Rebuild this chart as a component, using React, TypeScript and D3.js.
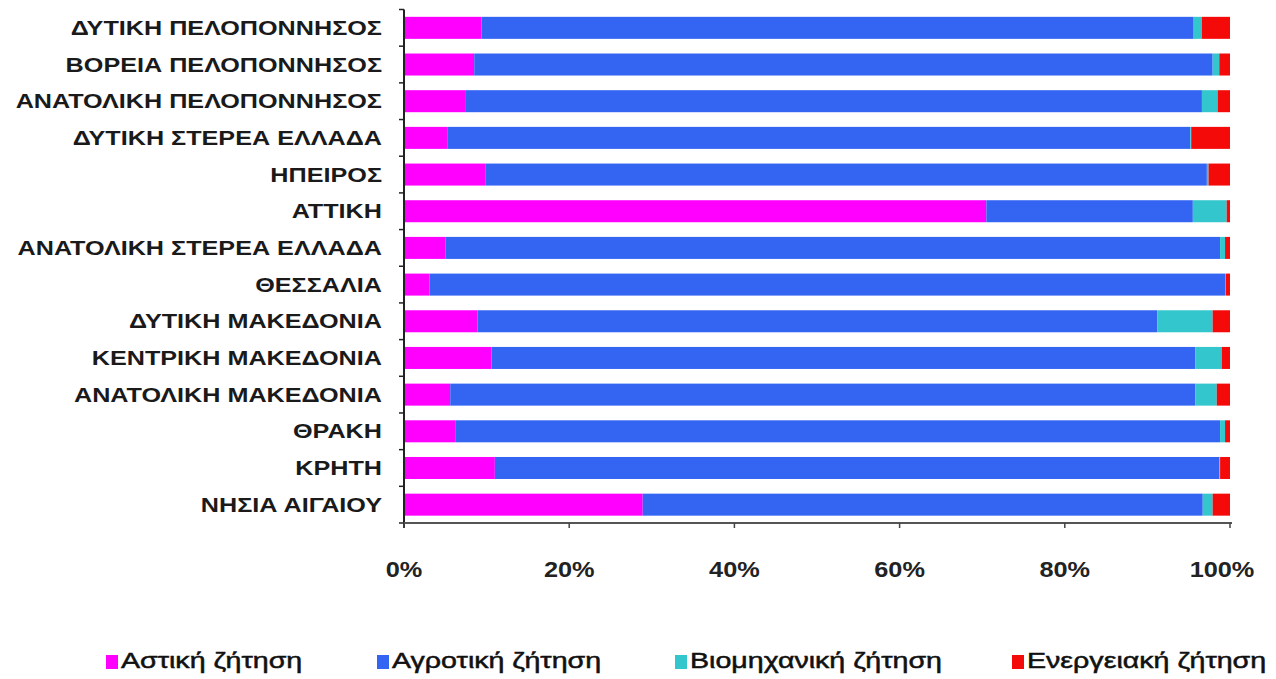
import React from "react";
import * as d3 from "d3";

const categories = [
  "ΔΥΤΙΚΗ ΠΕΛΟΠΟΝΝΗΣΟΣ",
  "ΒΟΡΕΙΑ ΠΕΛΟΠΟΝΝΗΣΟΣ",
  "ΑΝΑΤΟΛΙΚΗ ΠΕΛΟΠΟΝΝΗΣΟΣ",
  "ΔΥΤΙΚΗ ΣΤΕΡΕΑ ΕΛΛΑΔΑ",
  "ΗΠΕΙΡΟΣ",
  "ΑΤΤΙΚΗ",
  "ΑΝΑΤΟΛΙΚΗ ΣΤΕΡΕΑ ΕΛΛΑΔΑ",
  "ΘΕΣΣΑΛΙΑ",
  "ΔΥΤΙΚΗ ΜΑΚΕΔΟΝΙΑ",
  "ΚΕΝΤΡΙΚΗ ΜΑΚΕΔΟΝΙΑ",
  "ΑΝΑΤΟΛΙΚΗ ΜΑΚΕΔΟΝΙΑ",
  "ΘΡΑΚΗ",
  "ΚΡΗΤΗ",
  "ΝΗΣΙΑ ΑΙΓΑΙΟΥ",
];

const urban = [9.4, 8.5, 7.4, 5.3, 9.9, 70.5, 5.0, 3.1, 8.9, 10.6, 5.6, 6.2, 11.0, 28.9];
const agricultural = [86.2, 89.4, 89.2, 89.9, 87.3, 25.0, 93.8, 96.3, 82.3, 85.2, 90.2, 92.6, 87.7, 67.8];
const industrial = [1.0, 0.8, 1.9, 0.1, 0.2, 4.1, 0.6, 0.1, 6.7, 3.2, 2.6, 0.6, 0.1, 1.2];
const energy = [3.4, 1.3, 1.5, 4.7, 2.6, 0.4, 0.6, 0.5, 2.1, 1.0, 1.6, 0.6, 1.2, 2.1];

const seriesNames = ["Αστική ζήτηση", "Αγροτική ζήτηση", "Βιομηχανική ζήτηση", "Ενεργειακή ζήτηση"];
const seriesKeys = ["urban", "agricultural", "industrial", "energy"];
const colors = ["#FF00FF", "#3464F2", "#33C6CC", "#F50A0A"];
const xTicks = [0, 0.2, 0.4, 0.6, 0.8, 1.0];

const W = 1276;
const H = 679;
const left = 404;
const right = 1230;
const top = 9.5;
const bottom = 523;
const FONT = "'Liberation Sans', Arial, sans-serif";

export default function App() {
  const rows = categories.map((c, i) => ({
    cat: c,
    urban: urban[i],
    agricultural: agricultural[i],
    industrial: industrial[i],
    energy: energy[i],
  }));
  const stacked = d3.stack<any>().keys(seriesKeys).offset(d3.stackOffsetExpand)(rows);
  const x = d3.scaleLinear().domain([0, 1]).range([left, right]);
  const y = d3.scaleBand<string>().domain(categories).range([top, bottom]).paddingInner(0.4).paddingOuter(0.2);
  const step = y.step();

  const legendX = [106, 377, 675, 1012];

  return (
    <svg width={W} height={H} style={{ position: "absolute", left: 0, top: 0, background: "#fff" }}>
      <rect x={0} y={0} width={W} height={H} fill="#fff" />
      {stacked.map((s, si) => (
        <g key={si} fill={colors[si]}>
          {s.map((d, i) => (
            <rect
              key={i}
              x={x(d[0])}
              y={y(categories[i])}
              width={Math.max(0, x(d[1]) - x(d[0]))}
              height={y.bandwidth()}
            />
          ))}
        </g>
      ))}
      {/* axes */}
      <line x1={left} x2={left} y1={top} y2={bottom + 5} stroke="#222" strokeWidth={2} />
      <line x1={left - 1} x2={right + 2} y1={bottom} y2={bottom} stroke="#555" strokeWidth={2} />
      {categories.map((c, i) => (
        <line key={"yt" + i} x1={left - 5} x2={left} y1={top + step * i} y2={top + step * i} stroke="#222" strokeWidth={1.5} />
      ))}
      <line x1={left - 5} x2={left} y1={bottom} y2={bottom} stroke="#222" strokeWidth={1.5} />
      {xTicks.map((t, i) => (
        <line key={"xt" + i} x1={x(t)} x2={x(t)} y1={bottom} y2={bottom + 5} stroke="#444" strokeWidth={1.5} />
      ))}
      {/* category labels */}
      {categories.map((c, i) => (
        <text
          key={"cl" + i}
          transform={`translate(382,${(y(c) as number) + y.bandwidth() / 2}) scale(1.26,1)`}
          textAnchor="end"
          dominantBaseline="central"
          fontFamily={FONT}
          fontWeight="bold"
          fontSize={20}
          fill="#1a1a1a"
        >
          {c}
        </text>
      ))}
      {/* x tick labels */}
      {xTicks.map((t, i) => (
        <text
          key={"xl" + i}
          transform={`translate(${t === 1 ? x(t) - 8 : x(t)},577) scale(1.15,1)`}
          textAnchor="middle"
          fontFamily={FONT}
          fontWeight="bold"
          fontSize={22}
          fill="#222"
        >
          {d3.format(".0%")(t)}
        </text>
      ))}
      {/* legend */}
      {seriesNames.map((n, i) => (
        <g key={"lg" + i}>
          <rect x={legendX[i]} y={655} width={12} height={14} fill={colors[i]} />
          <text
            transform={`translate(${legendX[i] + 15},668) scale(1.3,1)`}
            fontFamily={FONT}
            fontSize={22}
            fill="#111"
            stroke="#111"
            strokeWidth={0.5}
          >
            {n}
          </text>
        </g>
      ))}
    </svg>
  );
}
